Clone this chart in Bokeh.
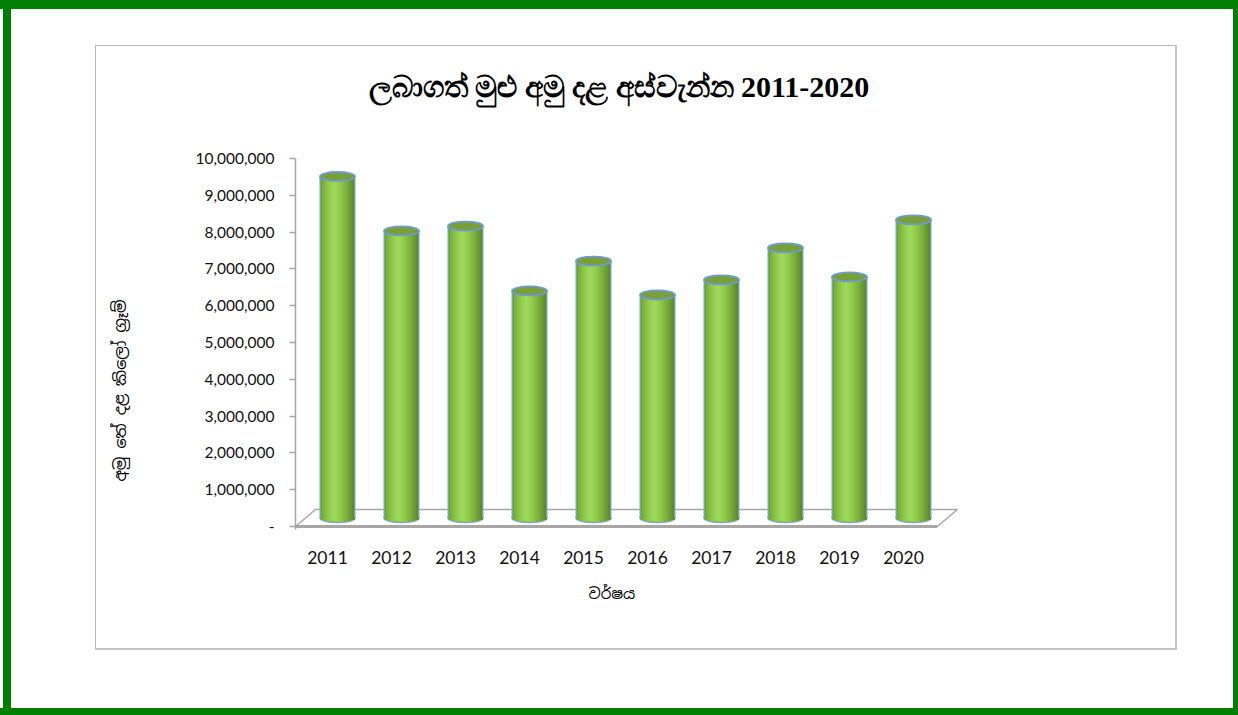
import numpy as np
from bokeh.plotting import figure
from bokeh.models import (Range1d, LinearAxis, FixedTicker, NumeralTickFormatter,
                          ColumnDataSource, Title)
from bokeh.embed import file_html
from bokeh.resources import INLINE

# ---------------- data ----------------
years = ["2011", "2012", "2013", "2014", "2015", "2016", "2017", "2018", "2019", "2020"]
harvest_kg = [9280000, 7800000, 7930000, 6170000, 6980000, 6060000, 6470000, 7340000, 6550000, 8100000]
y_ticks = [0, 1000000, 2000000, 3000000, 4000000, 5000000, 6000000, 7000000, 8000000, 9000000, 10000000]

title_text = "ලබාගත් මුළු අමු දළ අස්වැන්න  2011-2020"
x_title = "වර්ෂය"
y_title = "අමු තේ දළ කිලෝ ග්‍රෑම්"

# ---------------- layout constants (canvas px) ----------------
W, H = 1238, 715
FL, FR, FT, FB = 295, 958, 158, 529          # frame edges
Y0_PX = 526                                  # pixel row of value 0
PX_PER_CAT = 64.0
X_START = -0.5
X_END = X_START + (FR - FL) / PX_PER_CAT
Y_MAX = 1e7
PX_PER_UNIT_Y = (Y0_PX - FT) / Y_MAX


def DY(dpx):  # pixel height -> data height
    return dpx / PX_PER_UNIT_Y


# decorative page frame (green) and chart box (grey), drawn as the figure's CSS background
bg_layers = [  # (colour, x, y, w, h)
    ("#008000", 3, 0, 8, 715), ("#008000", 0, 0, 1238, 9),
    ("#008000", 1233, 0, 5, 715), ("#008000", 0, 708, 1238, 7),
    ("#B4B4B4", 95, 45, 1080, 1), ("#B4B4B4", 95, 45, 1, 603),
    ("#C4C4C4", 1175, 45, 2, 605), ("#C4C4C4", 95, 648, 1082, 2),
]
css = {
    "background-color": "white",
    "background-image": ", ".join("linear-gradient(%s,%s)" % (c, c) for c, *_ in bg_layers),
    "background-position": ", ".join("%dpx %dpx" % (x, y) for _, x, y, w, h in bg_layers),
    "background-size": ", ".join("%dpx %dpx" % (w, h) for _, x, y, w, h in bg_layers),
    "background-repeat": "no-repeat",
}

p = figure(width=W, height=H, output_backend="svg", toolbar_location=None,
           x_range=Range1d(X_START, X_END), y_range=Range1d(-DY(FB - Y0_PX), Y_MAX),
           x_axis_type=None, y_axis_type=None,
           min_border_left=FL, min_border_right=W - FR,
           min_border_top=FT, min_border_bottom=H - FB)
p.outline_line_color = None
p.background_fill_color = None
p.border_fill_color = None
p.styles = css

n = len(years)

# ---------------- 3D floor ----------------
DEPTH_X = 10 / PX_PER_CAT
DEPTH_PX = 17
DEPTH_Y = DY(DEPTH_PX / 2)
floor_front_r = (n - 1) + 0.53
p.line(x=[X_START, X_START + 2 * DEPTH_X, floor_front_r + 2 * DEPTH_X, floor_front_r],
       y=[0, DY(DEPTH_PX), DY(DEPTH_PX), 0], line_color="#A6A6A6", line_width=1.5)
p.line(x=[X_START, floor_front_r], y=[0, 0], line_color="#A6A6A6", line_width=3)

# ---------------- cylinders ----------------
BAR_W = 35 / PX_PER_CAT
ELL_H = 9
N_STRIPS = 20
shade_pos = [0.0, 0.1, 0.28, 0.42, 0.56, 0.7, 0.85, 1.0]
shade_rgb = [(0x64, 0x92, 0x2E), (0x7E, 0xB4, 0x3E), (0x95, 0xCF, 0x4E), (0xA0, 0xDA, 0x59),
             (0x94, 0xCD, 0x4C), (0x82, 0xB8, 0x40), (0x6E, 0xA0, 0x34), (0x58, 0x83, 0x26)]


def shade(t):
    r = int(np.interp(t, shade_pos, [c[0] for c in shade_rgb]))
    g = int(np.interp(t, shade_pos, [c[1] for c in shade_rgb]))
    b = int(np.interp(t, shade_pos, [c[2] for c in shade_rgb]))
    return "#%02x%02x%02x" % (r, g, b)


xc = np.arange(n) + DEPTH_X
vals = np.array(harvest_kg, dtype=float)
tops = vals + DEPTH_Y

# bottom ellipses
p.ellipse(x=xc, y=np.full(n, DEPTH_Y), width=BAR_W, height=ELL_H, height_units="screen",
          fill_color="#6E9A33", line_color="#7EA8D8", line_width=1.5)

sl, sr, sb, st, sc = [], [], [], [], []
sw = BAR_W / N_STRIPS
for i in range(n):
    for k in range(N_STRIPS):
        t = (k + 0.5) / N_STRIPS
        left = xc[i] - BAR_W / 2 + k * sw
        sl.append(left)
        sr.append(left + sw * (2.0 if k < N_STRIPS - 1 else 1.0))
        drop = (ELL_H / 2 - 1) * np.sqrt(max(0.0, 1 - (2 * t - 1) ** 2))
        sb.append(DEPTH_Y - DY(drop))
        st.append(tops[i])
        sc.append(shade(t))
p.quad(source=ColumnDataSource(dict(l=sl, r=sr, b=sb, t=st, c=sc)),
       left="l", right="r", bottom="b", top="t", fill_color="c", line_color=None)

# side edges
p.segment(x0=xc - BAR_W / 2, y0=np.full(n, DEPTH_Y), x1=xc - BAR_W / 2, y1=tops,
          line_color="#8DB3E0", line_width=1.2)
p.segment(x0=xc + BAR_W / 2, y0=np.full(n, DEPTH_Y), x1=xc + BAR_W / 2, y1=tops,
          line_color="#8DB3E0", line_width=1.2)

# top ellipses
p.ellipse(x=xc, y=tops, width=BAR_W, height=ELL_H, height_units="screen", angle=0.0,
          fill_color="#78A037", line_color="#6D9BD1", line_width=1.8)

# ---------------- axes ----------------
yaxis = LinearAxis(ticker=FixedTicker(ticks=y_ticks),
                   formatter=NumeralTickFormatter(format="0,0"))
yaxis.major_label_overrides = {0: "-"}
yaxis.axis_line_color = "#A6A6A6"
yaxis.axis_line_width = 1.5
yaxis.major_tick_line_color = "#A6A6A6"
yaxis.major_tick_line_width = 1.5
yaxis.major_tick_out = 6
yaxis.major_tick_in = 0
yaxis.minor_tick_line_color = None
yaxis.major_label_standoff = 15
yaxis.major_label_text_font = "Lato"
yaxis.major_label_text_font_size = "15.5px"
yaxis.major_label_text_color = "#111111"
p.add_layout(yaxis, "left")

xaxis = LinearAxis(ticker=FixedTicker(ticks=list(range(n))))
xaxis.major_label_overrides = {i: years[i] for i in range(n)}
xaxis.axis_line_color = None
xaxis.major_tick_line_color = None
xaxis.minor_tick_line_color = None
xaxis.major_label_standoff = 15
xaxis.major_label_text_font = "Lato"
xaxis.major_label_text_font_size = "17.5px"
xaxis.major_label_text_color = "#111111"
p.add_layout(xaxis, "below")

# ---------------- texts ----------------
p.add_layout(Title(text=title_text, align="left", offset=73, standoff=111,
                   text_font="Liberation Serif", text_font_style="bold",
                   text_font_size="30px", text_color="black"), "above")
p.add_layout(Title(text=x_title, align="left", offset=293, standoff=30,
                   text_font="Noto Sans Sinhala", text_font_style="normal",
                   text_font_size="15px", text_color="black"), "below")
p.add_layout(Title(text=y_title, align="left", offset=48, standoff=123,
                   text_font="Noto Sans Sinhala", text_font_style="normal",
                   text_font_size="16px", text_color="black"), "left")

open("out.html", "w").write(file_html(p, INLINE))
